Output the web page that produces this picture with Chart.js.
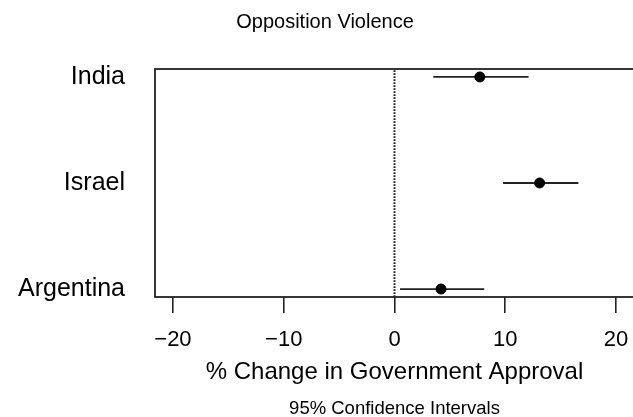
<!DOCTYPE html>
<html>
<head>
<meta charset="utf-8">
<script src="https://cdn.jsdelivr.net/npm/chart.js@4.4.0/dist/chart.umd.min.js"></script>
<style>
    html, body { margin: 0; padding: 0; background: #fff; overflow: hidden; }
</style>
</head>
<body>
<canvas id="grafico" width="640" height="417"></canvas>
<script>
// dados
const paises = ['Argentina', 'Israel', 'India'];
const posicoes = [1, 2, 3];
const estimativas = [4.2, 13.1, 7.7];
const limiteInferior = [0.5, 9.8, 3.5];
const limiteSuperior = [8.1, 16.6, 12.1];
const ticksX = [-20, -10, 0, 10, 20];
const limitesX = [-21.62, 21.62];
const limitesY = [0.925, 3.075];
const linhaZero = 0;

const titulo = 'Opposition Violence';
const tituloX = '% Change in Government Approval';
const rodape = '95% Confidence Intervals';

const fonte = '"Liberation Sans", Arial, Helvetica, sans-serif';
const corLinha = '#222';

// pontos (estimativas)
const pontos = estimativas.map((v, i) => ({ x: v, y: posicoes[i] }));

// intervalos de confiança, um dataset por país
const intervalos = paises.map((p, i) => ({
    type: 'line',
    label: 'IC ' + p,
    data: [
        { x: limiteInferior[i], y: posicoes[i] },
        { x: limiteSuperior[i], y: posicoes[i] }
    ],
    borderColor: corLinha,
    borderWidth: 1.8,
    pointRadius: 0,
    fill: false
}));

// linha pontilhada em zero
const zero = {
    type: 'line',
    label: 'zero',
    data: [
        { x: linhaZero, y: limitesY[0] },
        { x: linhaZero, y: limitesY[1] }
    ],
    borderColor: '#222',
    borderWidth: 2,
    borderDash: [1.8, 1.2],
    pointRadius: 0,
    fill: false
};

// caixa em volta da área do gráfico + textos de título e rodapé
const molduraPlugin = {
    id: 'moldura',
    afterDraw(chart) {
        const { ctx, chartArea } = chart;
        ctx.save();
        ctx.strokeStyle = corLinha;
        ctx.lineWidth = 1.8;
        ctx.strokeRect(chartArea.left, chartArea.top,
            chartArea.right - chartArea.left, chartArea.bottom - chartArea.top);

        ctx.fillStyle = '#000';
        ctx.textAlign = 'center';
        ctx.textBaseline = 'middle';
        ctx.font = '20px ' + fonte;
        ctx.fillText(titulo, 325, 22);
        ctx.font = '18.5px ' + fonte;
        ctx.fillText(rodape, chart.scales.x.getPixelForValue(0), 409);
        ctx.restore();
    }
};

const ctx = document.getElementById('grafico').getContext('2d');

// o canvas é um pouco mais largo que a janela: a borda direita da caixa fica cortada
window.grafico = new Chart(ctx, {
    type: 'scatter',
    data: {
        datasets: [
            {
                label: 'Estimativa',
                data: pontos,
                backgroundColor: '#000',
                borderColor: '#000',
                pointRadius: 5,
                pointHoverRadius: 5
            },
            ...intervalos,
            zero
        ]
    },
    options: {
        responsive: false,
        animation: false,
        layout: { padding: { left: 0, top: 69, right: 4, bottom: 19 } },
        plugins: {
            legend: { display: false },
            tooltip: { enabled: false },
            title: { display: false }
        },
        scales: {
            x: {
                type: 'linear',
                min: limitesX[0],
                max: limitesX[1],
                afterBuildTicks: (scale) => {
                    scale.ticks = ticksX.map(v => ({ value: v }));
                },
                afterFit: (scale) => {
                    scale.height = 101;
                    scale.paddingLeft = 0;
                    scale.paddingRight = 0;
                },
                border: { display: false },
                grid: {
                    drawOnChartArea: false,
                    drawTicks: true,
                    tickLength: 16,
                    color: corLinha,
                    lineWidth: 1.6
                },
                ticks: {
                    color: '#000',
                    padding: 16,
                    maxRotation: 0,
                    font: { family: fonte, size: 22, lineHeight: 1 },
                    callback: (v) => v < 0 ? '\u2212' + Math.abs(v) : String(v)
                },
                title: {
                    display: true,
                    text: tituloX,
                    color: '#000',
                    font: { family: fonte, size: 24, lineHeight: 1 },
                    padding: { top: 0, bottom: 14 }
                }
            },
            y: {
                type: 'linear',
                min: limitesY[0],
                max: limitesY[1],
                afterBuildTicks: (scale) => {
                    scale.ticks = posicoes.map(v => ({ value: v }));
                },
                afterFit: (scale) => { scale.width = 155; },
                border: { display: false },
                grid: { display: false, drawTicks: false },
                ticks: {
                    color: '#000',
                    padding: 30,
                    font: { family: fonte, size: 25, lineHeight: 1 },
                    callback: (v) => paises[posicoes.indexOf(v)]
                }
            }
        }
    },
    plugins: [molduraPlugin]
});
</script>
</body>
</html>
